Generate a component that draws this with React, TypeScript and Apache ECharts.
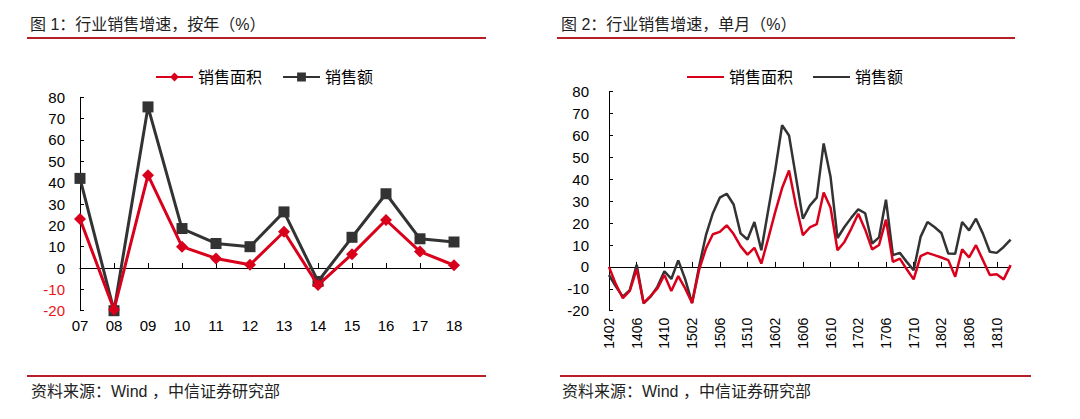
import React, { useEffect, useRef } from "react";
import * as echarts from "echarts";

const FONT = "'Liberation Sans', 'Noto Sans CJK SC', sans-serif";
const RED = "#d9001b";
const DARK = "#333333";
const RULE = "#b42025";

// Figure 1: yearly growth (%)
const years = ["07", "08", "09", "10", "11", "12", "13", "14", "15", "16", "17", "18"];
const yearlyArea = [23, -19.5, 43.5, 10, 4.5, 1.5, 17, -8, 6.5, 22.5, 7.7, 1.3];
const yearlySales = [42, -20, 75.5, 18.5, 11.5, 10, 26.3, -6.3, 14.4, 34.8, 13.7, 12.2];

// Figure 2: monthly growth (%)
const months = [
  "1402", "1403", "1404", "1405", "1406", "1407", "1408", "1409", "1410", "1411", "1412",
  "1501", "1502", "1503", "1504", "1505", "1506", "1507", "1508", "1509", "1510", "1511", "1512",
  "1601", "1602", "1603", "1604", "1605", "1606", "1607", "1608", "1609", "1610", "1611", "1612",
  "1701", "1702", "1703", "1704", "1705", "1706", "1707", "1708", "1709", "1710", "1711", "1712",
  "1801", "1802", "1803", "1804", "1805", "1806", "1807", "1808", "1809", "1810", "1811", "1812",
];
const monthlyArea = [
  0, -8, -14.3, -11, -1, -16.5, -13.3, -9.8, -3.7, -11, -4.2,
  -9.8, -16.5, -1.5, 8.4, 14.9, 16, 19, 15, 9.5, 5.6, 8.7, 1.5,
  13, 25, 36, 44, 28, 14.5, 18, 19.5, 34, 27, 7.6, 11.4,
  17.5, 24.3, 17, 8, 10, 21.6, 2.3, 3.8, -1.1, -5.7, 4.9, 6.4,
  5.4, 4.3, 3.1, -4.5, 8, 4.3, 9.9, 3.1, -3.7, -3.4, -5.7, 0.8,
];
const monthlySales = [
  -3.7, -9, -13.6, -10.6, 1, -16.6, -13.6, -9, -2, -5.5, 3,
  -5.6, -16.5, 0, 14.5, 24.5, 31.6, 33.4, 28.5, 15.3, 12.5, 20.5, 7.6,
  26, 44, 64.7, 60, 41, 22, 28, 31.6, 56.4, 41, 13.2, 18.2,
  22.5, 26.3, 24.5, 10.7, 13.5, 30.7, 5.4, 6.4, 2.3, -1.5, 13.7, 20.5,
  18.2, 15.5, 6.1, 6, 20.5, 16.7, 22, 15.2, 6.9, 6.4, 9.1, 12.5,
];

const yTicks = { min: -20, max: 80, interval: 10 };

export default function App() {
  const ref = useRef<HTMLDivElement>(null);

  useEffect(() => {
    if (!ref.current) return;
    const chart = echarts.init(ref.current, null, { renderer: "svg" });

    const labelStyle = { fontFamily: FONT, fontSize: 15, color: "#000" };

    chart.setOption({
      animation: false,
      backgroundColor: "#fff",
      textStyle: { fontFamily: FONT },
      grid: [
        { left: 80, top: 97.3, width: 374, height: 213.4, containLabel: false },
        { left: 609, top: 91.7, width: 401.6, height: 219, containLabel: false },
      ],
      legend: [
        {
          left: 150,
          top: 64,
          itemWidth: 37,
          itemHeight: 11,
          itemGap: 20,
          textStyle: { fontFamily: FONT, fontSize: 16, color: "#000" },
          data: ["销售面积", "销售额"],
          selectedMode: false,
        },
        {
          left: 682,
          top: 64,
          itemWidth: 37,
          itemHeight: 2,
          itemGap: 20,
          icon: "rect",
          textStyle: { fontFamily: FONT, fontSize: 16, color: "#000" },
          data: [
            { name: "销售面积", itemStyle: { color: RED } },
            { name: "销售额", itemStyle: { color: DARK } },
          ],
          selectedMode: false,
        },
      ],
      xAxis: [
        {
          gridIndex: 0,
          type: "category",
          data: years,
          boundaryGap: false,
          axisLine: { show: false, onZero: false },
          axisTick: { show: false },
          axisLabel: { ...labelStyle, margin: 7 },
        },
        {
          gridIndex: 0,
          type: "category",
          data: years,
          boundaryGap: false,
          position: "bottom",
          axisLine: { show: true, onZero: true, lineStyle: { color: "#000", width: 1 } },
          axisTick: { show: true, inside: true, length: 5, lineStyle: { color: "#000" } },
          axisLabel: { show: false },
        },
        {
          gridIndex: 1,
          type: "category",
          data: months,
          boundaryGap: false,
          axisLine: { show: false, onZero: false },
          axisTick: { show: false },
          axisLabel: { fontFamily: FONT, fontSize: 14, color: "#000", rotate: 90, interval: 3, margin: 7 },
        },
        {
          gridIndex: 1,
          type: "category",
          data: months,
          boundaryGap: false,
          position: "bottom",
          axisLine: { show: true, onZero: true, lineStyle: { color: "#000", width: 1 } },
          axisTick: { show: true, inside: true, length: 5, interval: 3, lineStyle: { color: "#000" } },
          axisLabel: { show: false },
        },
      ],
      yAxis: [
        {
          gridIndex: 0,
          type: "value",
          ...yTicks,
          splitLine: { show: false },
          axisLine: { show: true, lineStyle: { color: "#000", width: 1 } },
          axisTick: { show: true, inside: true, length: 4, lineStyle: { color: "#000" } },
          axisLabel: {
            fontFamily: FONT,
            fontSize: 15,
            margin: 15,
            color: (v: string) => (parseFloat(v) < 0 ? "#e8141b" : "#000"),
          },
        },
        {
          gridIndex: 1,
          type: "value",
          ...yTicks,
          splitLine: { show: false },
          axisLine: { show: true, lineStyle: { color: "#000", width: 1 } },
          axisTick: { show: true, inside: true, length: 4, lineStyle: { color: "#000" } },
          axisLabel: { ...labelStyle, margin: 20 },
        },
      ],
      series: [
        {
          name: "销售面积",
          type: "line",
          xAxisIndex: 0,
          yAxisIndex: 0,
          data: yearlyArea,
          symbol: "diamond",
          symbolSize: 12,
          color: RED,
          lineStyle: { width: 3, color: RED },
          itemStyle: { color: RED },
          z: 3,
        },
        {
          name: "销售额",
          type: "line",
          xAxisIndex: 0,
          yAxisIndex: 0,
          data: yearlySales,
          symbol: "rect",
          symbolSize: 11,
          color: DARK,
          lineStyle: { width: 3, color: DARK },
          itemStyle: { color: DARK },
          z: 2,
        },
        {
          name: "销售面积",
          type: "line",
          xAxisIndex: 2,
          yAxisIndex: 1,
          data: monthlyArea,
          symbol: "none",
          color: RED,
          lineStyle: { width: 2.5, color: RED },
          z: 3,
        },
        {
          name: "销售额",
          type: "line",
          xAxisIndex: 2,
          yAxisIndex: 1,
          data: monthlySales,
          symbol: "none",
          color: DARK,
          lineStyle: { width: 2.5, color: DARK },
          z: 2,
        },
      ],
      graphic: [
        {
          type: "text",
          left: 30,
          top: 16,
          style: { text: "图 1：行业销售增速，按年（%）", font: `16px ${FONT}`, fill: "#222" },
        },
        {
          type: "text",
          left: 561,
          top: 16,
          style: { text: "图 2：行业销售增速，单月（%）", font: `16px ${FONT}`, fill: "#222" },
        },
        { type: "line", shape: { x1: 27, y1: 38, x2: 486, y2: 38 }, style: { stroke: RULE, lineWidth: 2 } },
        { type: "line", shape: { x1: 557, y1: 38, x2: 1015, y2: 38 }, style: { stroke: RULE, lineWidth: 2 } },
        { type: "line", shape: { x1: 27, y1: 376, x2: 486, y2: 376 }, style: { stroke: RULE, lineWidth: 2 } },
        { type: "line", shape: { x1: 560, y1: 376, x2: 1031, y2: 376 }, style: { stroke: RULE, lineWidth: 2 } },
        {
          type: "text",
          left: 31,
          top: 383,
          style: { text: "资料来源：Wind ，中信证券研究部", font: `16px ${FONT}`, fill: "#222" },
        },
        {
          type: "text",
          left: 562,
          top: 383,
          style: { text: "资料来源：Wind ，中信证券研究部", font: `16px ${FONT}`, fill: "#222" },
        },
      ],
    });

    return () => chart.dispose();
  }, []);

  return (
    <div
      ref={ref}
      style={{ position: "absolute", left: 0, top: 0, width: 1080, height: 419, background: "#fff" }}
    />
  );
}
